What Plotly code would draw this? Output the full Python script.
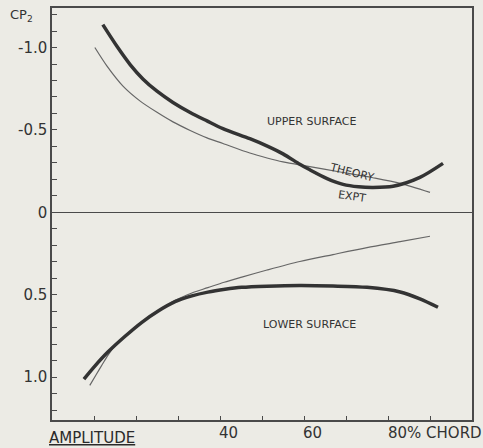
import plotly.graph_objects as go

# Upper surface (negative Cp, plotted upward)
upper_expt_x = [12.1, 15.5, 18.6, 21.7, 25.0, 28.8, 32.9, 36.9, 40.7, 47.1, 51.0, 55.0, 59.0, 61.4, 65.5, 69.3, 73.0, 76.4, 81.2, 87.6, 93.1]
upper_expt_y = [-1.139, -1.006, -0.897, -0.808, -0.735, -0.667, -0.606, -0.555, -0.508, -0.447, -0.405, -0.355, -0.292, -0.258, -0.205, -0.170, -0.155, -0.151, -0.158, -0.212, -0.297]
upper_theory_x = [10.2, 13.1, 16.9, 21.0, 25.0, 28.8, 32.9, 36.9, 40.7, 47.1, 51.2, 55.0, 60.7, 68.6, 76.4, 82.9, 90.0]
upper_theory_y = [-1.0, -0.887, -0.766, -0.675, -0.607, -0.549, -0.497, -0.452, -0.418, -0.360, -0.330, -0.306, -0.280, -0.245, -0.210, -0.176, -0.121]

# Lower surface (positive Cp, plotted downward)
lower_expt_x = [7.6, 10.2, 13.3, 17.4, 21.4, 25.2, 29.3, 33.3, 37.1, 41.2, 45.2, 51.2, 59.0, 66.9, 75.0, 82.9, 87.6, 91.9]
lower_expt_y = [1.012, 0.933, 0.848, 0.752, 0.667, 0.600, 0.542, 0.507, 0.484, 0.467, 0.455, 0.448, 0.444, 0.447, 0.455, 0.483, 0.525, 0.576]
lower_theory_x = [9.0, 10.5, 12.0, 13.3, 15.0, 17.4, 21.4, 25.2, 29.3, 33.3, 37.1, 41.0, 45.2, 51.2, 59.0, 66.9, 75.0, 82.9, 90.0]
lower_theory_y = [1.050, 0.985, 0.922, 0.868, 0.808, 0.752, 0.667, 0.600, 0.534, 0.489, 0.457, 0.424, 0.393, 0.350, 0.298, 0.256, 0.214, 0.178, 0.145]

y_tickvals = [-1.0, -0.5, 0, 0.5, 1.0]
y_ticktext = ["-1.0", "-0.5", "0", "0.5", "1.0"]
x_tickvals = [10, 20, 30, 40, 50, 60, 70, 80, 90]
x_labels = [(40, "40"), (60, "60"), (80, "80% CHORD")]

BG = "#ecebe5"
INK = "#333333"
AXIS = "#4a4a4a"
FONT = "DejaVu Sans"

fig = go.Figure()
for xs, ys, w, c in [
    (upper_theory_x, upper_theory_y, 1.2, "#666666"),
    (lower_theory_x, lower_theory_y, 1.2, "#666666"),
    (upper_expt_x, upper_expt_y, 3.5, "#333333"),
    (lower_expt_x, lower_expt_y, 3.5, "#333333"),
]:
    fig.add_trace(go.Scatter(x=xs, y=ys, mode="lines",
                             line=dict(color=c, width=w, shape="spline", smoothing=0.8),
                             showlegend=False, hoverinfo="skip"))

fig.update_layout(
    width=483, height=448,
    margin=dict(l=52, r=11, t=8, b=28, autoexpand=False),
    paper_bgcolor=BG, plot_bgcolor=BG,
    font=dict(family=FONT, color=INK, size=13),
    showlegend=False,
)
fig.update_xaxes(
    range=[0, 100], showgrid=False, zeroline=False,
    showline=True, linecolor=AXIS, linewidth=1.5, mirror=True,
    tickvals=x_tickvals, ticks="inside", ticklen=4,
    tickcolor=AXIS, showticklabels=False,
)
fig.update_yaxes(
    range=[1.26, -1.24], showgrid=False,
    zeroline=True, zerolinecolor=AXIS, zerolinewidth=1.3,
    showline=True, linecolor=AXIS, linewidth=1.5, mirror=True,
    tickvals=y_tickvals, ticktext=y_ticktext, ticks="inside", ticklen=5,
    tickcolor=AXIS, tickfont=dict(size=15, color=INK),
    minor=dict(dtick=0.1, ticks="inside", ticklen=5, tickcolor=AXIS),
)

for xv, txt in x_labels:
    chord = "CHORD" in txt
    fig.add_annotation(x=xv, y=0, xref="x", yref="paper", text=txt,
                       showarrow=False, xanchor="left" if chord else "center",
                       xshift=-2 if chord else 8, yanchor="top", yshift=-2,
                       font=dict(size=15, color=INK))

fig.add_annotation(x=-0.105, y=0.983, xref="paper", yref="paper", text="CP<sub>2</sub>",
                   showarrow=False, xanchor="left", yanchor="middle",
                   font=dict(size=13, color=INK))

fig.add_annotation(x=-0.012, y=-0.044, xref="paper", yref="paper", text="<u>AMPLITUDE</u>",
                   showarrow=False, xanchor="left", yanchor="middle",
                   font=dict(size=15, color="#2a2a2a"))

labels = [
    (61.9, -0.552, "UPPER SURFACE", 0),
    (71.4, -0.242, "THEORY", 14),
    (71.4, -0.097, "EXPT", 8),
    (61.4, 0.679, "LOWER SURFACE", 0),
]
for xv, yv, txt, ang in labels:
    fig.add_annotation(x=xv, y=yv, text=txt, showarrow=False, textangle=ang,
                       font=dict(size=11, color=INK))

page_js = ("document.body.style.margin='0';"
           "document.body.style.background='" + BG + "';")
fig.write_html("out.html", post_script=page_js, config={"displayModeBar": False})
